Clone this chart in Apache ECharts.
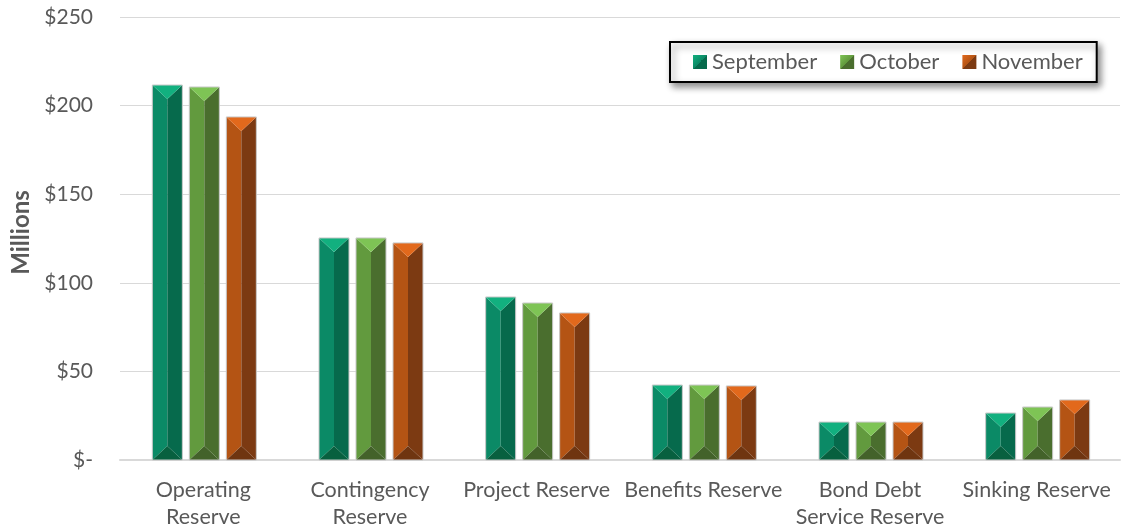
<!DOCTYPE html>
<html><head><meta charset="utf-8">
<script src="https://cdn.jsdelivr.net/npm/echarts@6/dist/echarts.min.js"></script>
<style>html,body{margin:0;padding:0;background:#fff}#c{width:1122px;height:531px}</style>
</head><body><div id="c"></div>
<script>
const categories = ['Operating\nReserve', 'Contingency\nReserve', 'Project Reserve', 'Benefits Reserve', 'Bond Debt\nService Reserve', 'Sinking Reserve'];
const seriesNames = ['September', 'October', 'November'];
const september = [211.6, 125.3, 92.0, 42.3, 21.4, 26.5];
const october = [210.5, 125.3, 88.6, 42.3, 21.4, 29.9];
const november = [193.6, 122.5, 83.0, 41.8, 21.4, 33.9];
const yTicks = [0, 50, 100, 150, 200, 250];

const palettes = [
  {top: '#12b07f', left: '#0b8a66', right: '#066a4c', bottom: '#08603f'},
  {top: '#7ec455', left: '#629a3e', right: '#4a6e2e', bottom: '#43622a'},
  {top: '#e2691c', left: '#b45414', right: '#7c3a12', bottom: '#6f3510'}
];
const FONT = 'Lato';

function renderItem(params, api) {
  const cat = api.value(0), val = api.value(1);
  const base = api.coord([cat, 0]);
  const top = api.coord([cat, val]);
  const band = api.size([1, 0])[0];
  const si = params.seriesIndex;
  const step = band * 0.222;
  const w = band * 0.18;
  const cx = base[0] + (si - 1) * step + 1;
  const x0 = cx - w / 2, x1 = cx + w / 2, yt = top[1], yb = base[1];
  const b = Math.min(w / 2 - 1, (yb - yt) / 2);
  const p = palettes[si];
  const poly = (pts, fill) => ({type: 'polygon', shape: {points: pts}, style: {fill: fill}});
  return {type: 'group', children: [
    poly([[x0, yt], [cx, yt + b], [cx, yb - b], [x0, yb]], p.left),
    poly([[x1, yt], [cx, yt + b], [cx, yb - b], [x1, yb]], p.right),
    poly([[x0, yb], [cx, yb - b], [x1, yb]], p.bottom),
    poly([[x0, yt], [x1, yt], [cx, yt + b]], p.top),
    {type: 'rect', shape: {x: x0, y: yt, width: w, height: yb - yt}, style: {fill: null, stroke: '#c8c8c8', lineWidth: 1}}
  ]};
}

function legendColor(p) {
  return {type: 'linear', x: 0, y: 0, x2: 1, y2: 1, colorStops: [
    {offset: 0, color: p.top}, {offset: 0.5, color: p.left}, {offset: 0.5, color: p.right}, {offset: 1, color: p.right}
  ]};
}

const seriesData = [september, october, november];
const chart = echarts.init(document.getElementById('c'));
chart.setOption({
  animation: false,
  grid: {left: 120, right: 2, top: 17, bottom: 71, outerBoundsMode: 'none', containLabel: false},
  legend: {
    left: 670, top: 42,
    padding: [9, 14, 9, 23],
    itemWidth: 14, itemHeight: 14, itemGap: 23,
    icon: 'rect',
    backgroundColor: '#fff', borderColor: '#000', borderWidth: 2,
    shadowColor: 'rgba(0,0,0,0.45)', shadowBlur: 7, shadowOffsetX: 3, shadowOffsetY: 4,
    textStyle: {fontFamily: FONT, fontSize: 22, color: '#595959'},
    data: seriesNames
  },
  xAxis: {
    type: 'category', data: categories,
    axisLine: {show: true, lineStyle: {color: '#d9d9d9', width: 2}},
    axisTick: {show: false},
    axisLabel: {fontFamily: FONT, fontSize: 21.5, color: '#595959', margin: 17, lineHeight: 27, interval: 0}
  },
  yAxis: {
    type: 'value', min: 0, max: 250, interval: 50,
    name: 'Millions', nameLocation: 'middle', nameGap: 81, nameRotate: 90,
    nameTextStyle: {fontFamily: FONT, fontSize: 24, fontWeight: 'bold', color: '#595959', padding: [0, 0, 0, 12]},
    axisLine: {show: false}, axisTick: {show: false},
    splitLine: {lineStyle: {color: '#d9d9d9', width: 1}},
    axisLabel: {fontFamily: FONT, fontSize: 21, color: '#595959', margin: 27,
      formatter: v => v === 0 ? '$-' : '$' + v}
  },
  series: seriesNames.map((name, i) => ({
    name: name, type: 'custom', renderItem: renderItem,
    itemStyle: {color: legendColor(palettes[i])},
    encode: {x: 0, y: 1},
    data: seriesData[i].map((v, k) => [k, v])
  }))
});
</script></body></html>
